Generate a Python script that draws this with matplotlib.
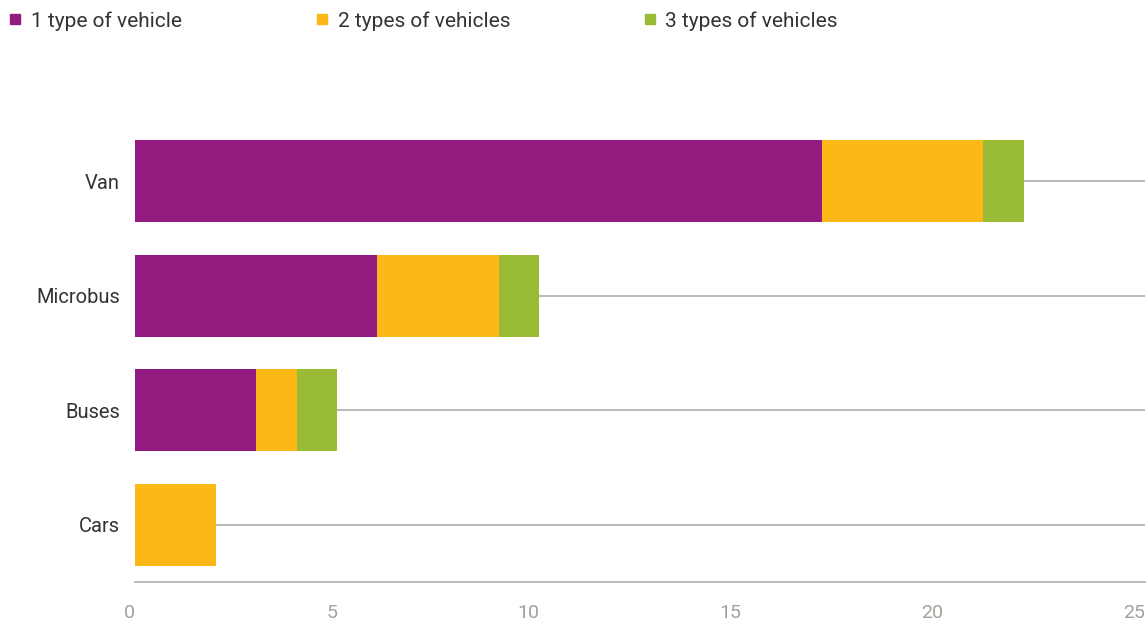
import matplotlib
matplotlib.use("Agg")
import matplotlib.pyplot as plt
from matplotlib.lines import Line2D

plt.rcParams['font.family'] = ['Roboto', 'DejaVu Sans']

# vehicle categories, top to bottom
categories = ['Van', 'Microbus', 'Buses', 'Cars']
one_type = [17, 6, 3, 0]
two_types = [4, 3, 1, 2]
three_types = [1, 1, 1, 0]

series_names = ['1 type of vehicle', '2 types of vehicles', '3 types of vehicles']
colors = ['#931b80', '#fbb817', '#9abb35']
x_ticks = [0, 5, 10, 15, 20, 25]

grid_col = '#a6a89e'

fig = plt.figure(figsize=(11.48, 6.26), dpi=100)
ax = fig.add_axes([135 / 1148, 1 - 582 / 626, 1010 / 1148, 458 / 626])

ypos = list(range(len(categories)))[::-1]

# horizontal guide lines through each row, behind the bars
ax.hlines(ypos, 0, 25, color=grid_col, lw=1.1, zorder=1)

left = [0] * len(categories)
for vals, col in zip([one_type, two_types, three_types], colors):
    ax.barh(ypos, vals, left=left, height=0.72, color=col, zorder=2)
    left = [a + b for a, b in zip(left, vals)]

ax.set_xlim(0, 25)
ax.set_ylim(-0.5, 3.5)
ax.set_xticks(x_ticks)
ax.set_xticklabels([str(t) for t in x_ticks], ha='right')
ax.set_yticks(ypos)
ax.set_yticklabels(categories)

for side in ['top', 'right', 'left']:
    ax.spines[side].set_visible(False)
ax.spines['bottom'].set_color(grid_col)
ax.spines['bottom'].set_linewidth(1.1)
ax.tick_params(axis='x', length=0, pad=16, labelsize=14, labelcolor='#a0a39a')
ax.tick_params(axis='y', length=0, pad=11, labelsize=14.5, labelcolor='#333333')

handles = [Line2D([], [], marker='s', linestyle='none', markersize=7.5,
                  markerfacecolor=c, markeredgecolor=c) for c in colors]
fig.legend(handles, series_names, loc='upper left',
           bbox_to_anchor=(7 / 1148, 1 - 11 / 626),
           ncol=3, frameon=False, fontsize=15, handlelength=0.8,
           handletextpad=0.36, columnspacing=6.3, labelcolor='#333333',
           borderaxespad=0, borderpad=0)

fig.savefig('out.png', dpi=100)
